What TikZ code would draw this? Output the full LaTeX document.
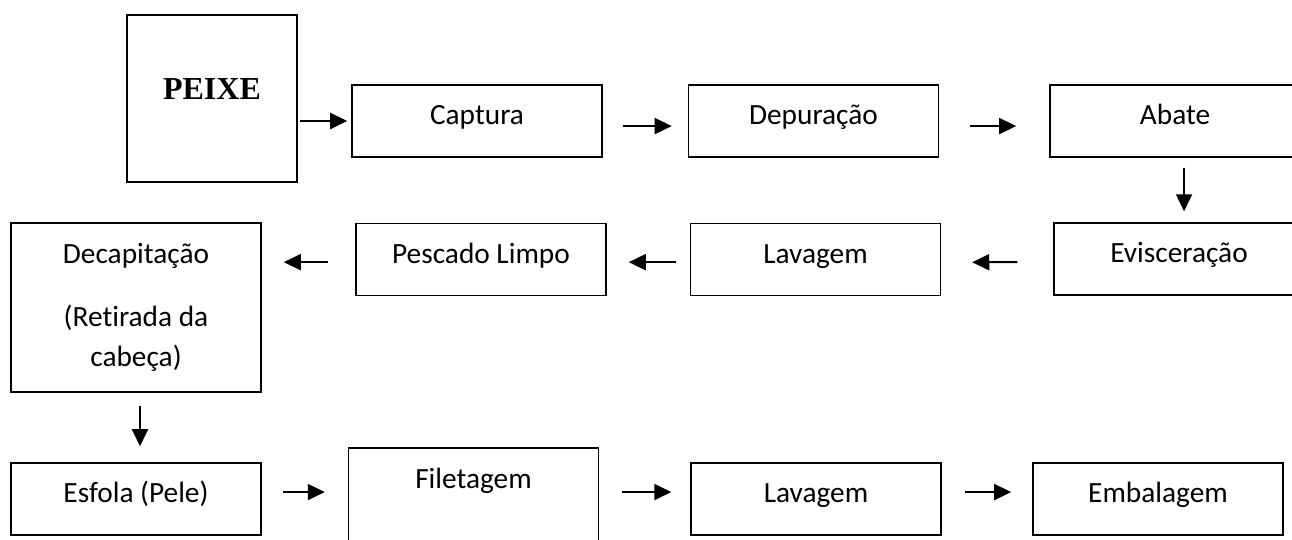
\documentclass[tikz,border=0pt]{standalone}
\usepackage{fontspec}
\setmainfont{Carlito}[Ligatures=NoCommon]
\newfontfamily\peixefont{Liberation Serif}
\usetikzlibrary{arrows.meta}

\begin{document}
\begin{tikzpicture}[x=0.375pt, y=-0.375pt,
                    line width=0.55pt,
                    font=\fontsize{11}{15}\selectfont,
                    ]
    \tikzstyle{caixa}=[draw, line width=0.55pt, minimum width=93.75pt, inner sep=0pt];
    \tikzstyle{etapa}=[caixa, minimum height=27pt, text height=8pt, text depth=5pt];
    \tikzstyle{inicio}=[caixa, line width=1pt, minimum width=63.75pt, minimum height=62.6pt,
                        font=\peixefont\bfseries\fontsize{12}{14}\selectfont, text depth=7pt];
    \tikzstyle{seta}=[line width=0.75pt, -{Triangle[length=6.4pt,width=6pt]}];

    \useasboundingbox (0,0) rectangle (1292,540);
    \clip (0,0) rectangle (1292,540);

    % primeira linha
    \node[inicio] (peixe) at (212,98.5) {PEIXE};
    \node[etapa] (captura) at (477,121) {Captura};
    \node[etapa] (depuracao) at (813.5,121) {Depuração};
    \node[etapa] (abate) at (1175,121) {Abate};

    % segunda linha
    \node[etapa] (evisceracao) at (1179,259) {Evisceração};
    \node[etapa] (lavagem) at (815.5,259.5) {Lavagem};
    \node[etapa] (pescado) at (481,259.5) {Pescado Limpo};
    \node[caixa, minimum height=63.4pt, align=center] (decapitacao) at (136,307.5)
        {Decapitação\\[8.6pt](Retirada da\\cabeça)};

    % terceira linha
    \node[etapa] (esfola) at (136,499) {Esfola (Pele)};
    \node[etapa, minimum height=37.5pt, text depth=15pt] (filetagem) at (473.5,498) {Filetagem};
    \node[etapa] (lavagemB) at (816,499) {Lavagem};
    \node[etapa] (embalagem) at (1158,499) {Embalagem};

    \path[draw, seta, shorten <=0.75pt, shorten >=1.5pt] (peixe.east |- captura.west) -- (captura.west);
    \path[draw, seta, shorten <=7.5pt, shorten >=6pt] ([yshift=-1.9pt]captura.east) -- ([yshift=-1.9pt]depuracao.west);
    \path[draw, seta, shorten <=11.6pt, shorten >=12.4pt] ([yshift=-1.9pt]depuracao.east) -- ([yshift=-1.9pt]abate.west);
    \path[draw, seta, shorten <=3.75pt, shorten >=4.1pt] ([xshift=3.4pt]abate.south) -- ([xshift=3.4pt]abate.south |- evisceracao.north);
    \path[draw, seta, shorten <=13.5pt, shorten >=11.6pt] ([yshift=-1.1pt]evisceracao.west) -- ([yshift=-1.1pt]lavagem.east);
    \path[draw, seta, shorten <=5.25pt, shorten >=8.25pt] ([yshift=-1pt]lavagem.west) -- ([yshift=-1pt]pescado.east);
    \path[draw, seta, shorten <=10.1pt, shorten >=8.25pt] ([yshift=-1pt]pescado.west) -- ([yshift=-1pt]decapitacao.east |- pescado.west);
    \path[draw, seta, shorten <=4.9pt, shorten >=6pt] ([xshift=1.5pt]decapitacao.south) -- ([xshift=1.5pt]esfola.north);
    \path[draw, seta, shorten <=7.9pt, shorten >=8.6pt] ([yshift=2.6pt]esfola.east) -- ([yshift=2.6pt]esfola.east -| filetagem.west);
    \path[draw, seta, shorten <=8.6pt, shorten >=7.1pt] ([yshift=2.6pt]lavagemB.west -| filetagem.east) -- ([yshift=2.6pt]lavagemB.west);
    \path[draw, seta, shorten <=8.6pt, shorten >=7.9pt] ([yshift=2.6pt]lavagemB.east) -- ([yshift=2.6pt]embalagem.west);
\end{tikzpicture}
\end{document}
